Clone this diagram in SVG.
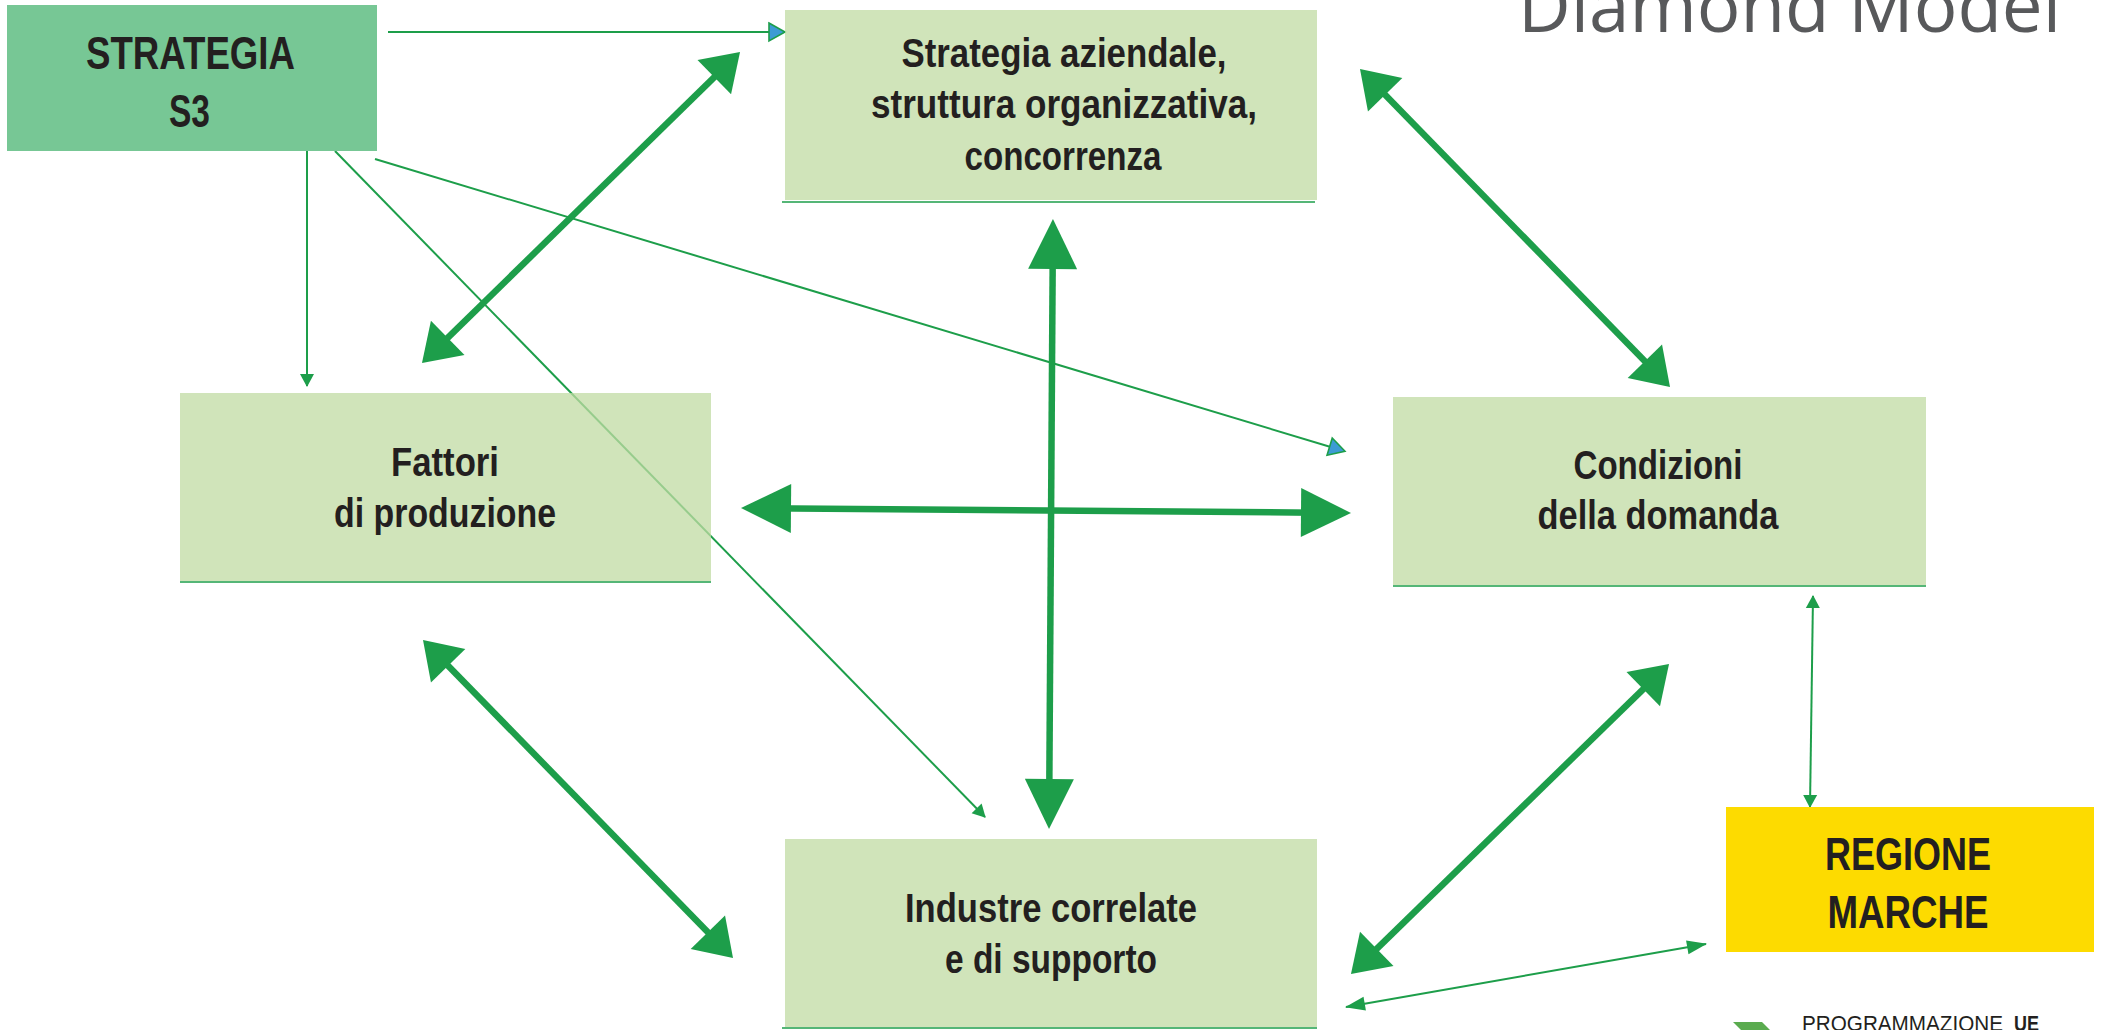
<svg xmlns="http://www.w3.org/2000/svg" width="2105" height="1030" viewBox="0 0 2105 1030">
<defs>
<style>
.box{fill:#c0dba3;fill-opacity:0.75}
.uline{stroke:#1d9e4a;stroke-width:1.6;fill:none}
.lbl{font-family:"Liberation Sans",Arial,sans-serif;font-weight:700;fill:#231f20;text-anchor:middle}
.n40{font-size:40px}
.n46{font-size:46px}
.thick{stroke:#1d9e4a;stroke-width:6.5;fill:none}
.thin{stroke:#1d9e4a;stroke-width:2;fill:none}
.hd{fill:#1d9e4a}
.hb{fill:#3d9bd4;stroke:#1d9e4a;stroke-width:1.6}
</style>
<marker id="big" markerUnits="userSpaceOnUse" markerWidth="50" markerHeight="49" refX="40" refY="24.5" orient="auto-start-reverse" overflow="visible"><path class="hd" d="M0,0 L50,24.5 L0,49 z"/></marker>
<marker id="bigd" markerUnits="userSpaceOnUse" markerWidth="36" markerHeight="48" refX="28" refY="24" orient="auto-start-reverse" overflow="visible"><path class="hd" d="M0,0 L36,24 L0,48 z"/></marker>
<marker id="ah" markerUnits="userSpaceOnUse" markerWidth="13" markerHeight="14" refX="12" refY="7" orient="auto-start-reverse" overflow="visible"><path class="hd" d="M0,0 L13,7 L0,14 z"/></marker>
<marker id="ahl" markerUnits="userSpaceOnUse" markerWidth="20" markerHeight="14" refX="19" refY="7" orient="auto-start-reverse" overflow="visible"><path class="hd" d="M0,0 L20,7 L0,14 z"/></marker>
<marker id="ahb" markerUnits="userSpaceOnUse" markerWidth="16" markerHeight="18" refX="15" refY="9" orient="auto" overflow="visible"><path class="hb" d="M0,0 L16,9 L0,18 z"/></marker>
</defs>
<rect x="0" y="0" width="2105" height="1030" fill="#ffffff"/>

<g id="connectors">
<line class="thin" x1="388" y1="32" x2="784" y2="32" marker-end="url(#ahb)"/>
<line class="thin" x1="307" y1="151" x2="307" y2="386" marker-end="url(#ah)"/>
<line class="thin" x1="335" y1="151" x2="985" y2="817" marker-end="url(#ah)"/>
<line class="thin" x1="375" y1="159" x2="1344" y2="451" marker-end="url(#ahb)"/>
<line class="thin" x1="1813" y1="596" x2="1810" y2="807" marker-start="url(#ah)" marker-end="url(#ah)"/>
<line class="thin" x1="1346" y1="1007" x2="1706" y2="944" marker-start="url(#ahl)" marker-end="url(#ahl)"/>
<line class="thick" x1="427.7" y1="357.4" x2="734.3" y2="57.6" marker-start="url(#bigd)" marker-end="url(#bigd)"/>
<line class="thick" x1="1365.6" y1="74.7" x2="1664.4" y2="381.3" marker-start="url(#bigd)" marker-end="url(#bigd)"/>
<line class="thick" x1="1052.9" y1="229" x2="1049.1" y2="819" marker-start="url(#big)" marker-end="url(#big)"/>
<line class="thick" x1="751" y1="508.1" x2="1341" y2="512.9" marker-start="url(#big)" marker-end="url(#big)"/>
<line class="thick" x1="428.6" y1="645.7" x2="727.4" y2="952.3" marker-start="url(#bigd)" marker-end="url(#bigd)"/>
<line class="thick" x1="1663.3" y1="669.6" x2="1356.7" y2="968.4" marker-start="url(#bigd)" marker-end="url(#bigd)"/>
</g>

<g id="node-strategia-s3">
<rect x="7" y="5" width="370" height="146" fill="#77c795"/>
<text class="lbl n46" x="190.5" y="69" textLength="209" lengthAdjust="spacingAndGlyphs">STRATEGIA</text>
<text class="lbl n46" x="189.5" y="127" textLength="41" lengthAdjust="spacingAndGlyphs">S3</text>
</g>

<g id="node-strategia-aziendale">
<rect class="box" x="785" y="10" width="532" height="190"/>
<line class="uline" x1="782" y1="202" x2="1315" y2="202"/>
<text class="lbl n40" x="1064" y="67" textLength="325" lengthAdjust="spacingAndGlyphs">Strategia aziendale,</text>
<text class="lbl n40" x="1064" y="118" textLength="386" lengthAdjust="spacingAndGlyphs">struttura organizzativa,</text>
<text class="lbl n40" x="1063" y="170" textLength="197" lengthAdjust="spacingAndGlyphs">concorrenza</text>
</g>

<g id="node-fattori">
<rect class="box" x="180" y="393" width="531" height="188"/>
<line class="uline" x1="180" y1="582" x2="711" y2="582"/>
<text class="lbl n40" x="445" y="476" textLength="108" lengthAdjust="spacingAndGlyphs">Fattori</text>
<text class="lbl n40" x="445" y="527" textLength="222" lengthAdjust="spacingAndGlyphs">di produzione</text>
</g>

<g id="node-condizioni">
<rect class="box" x="1393" y="397" width="533" height="188"/>
<line class="uline" x1="1393" y1="586" x2="1926" y2="586"/>
<text class="lbl n40" x="1658" y="479" textLength="169" lengthAdjust="spacingAndGlyphs">Condizioni</text>
<text class="lbl n40" x="1658" y="529" textLength="241" lengthAdjust="spacingAndGlyphs">della domanda</text>
</g>

<g id="node-industre">
<rect class="box" x="785" y="839" width="532" height="188"/>
<line class="uline" x1="782" y1="1028" x2="1317" y2="1028"/>
<text class="lbl n40" x="1051" y="922" textLength="292" lengthAdjust="spacingAndGlyphs">Industre correlate</text>
<text class="lbl n40" x="1051" y="973" textLength="212" lengthAdjust="spacingAndGlyphs">e di supporto</text>
</g>

<g id="node-regione">
<rect x="1726" y="807" width="368" height="145" fill="#fddb00"/>
<text class="lbl n46" x="1908" y="870" textLength="166" lengthAdjust="spacingAndGlyphs">REGIONE</text>
<text class="lbl n46" x="1908" y="928" textLength="161" lengthAdjust="spacingAndGlyphs">MARCHE</text>
</g>

<g id="title">
<text x="1518" y="32" font-family="'Open Sans','Liberation Sans',sans-serif" font-weight="400" font-size="74" fill="#58595b" textLength="543" lengthAdjust="spacingAndGlyphs">Diamond Model</text>
</g>

<g id="logo">
<polygon points="1733,1022 1762,1022 1770,1030 1741,1030" fill="#5aab4f"/>
<text y="1030.5" font-family="'Liberation Sans',Arial,sans-serif" font-size="21.5" fill="#231f20"><tspan x="1802" textLength="201" lengthAdjust="spacingAndGlyphs">PROGRAMMAZIONE</tspan><tspan x="2014" font-weight="700" textLength="25" lengthAdjust="spacingAndGlyphs">UE</tspan></text>
</g>
</svg>
